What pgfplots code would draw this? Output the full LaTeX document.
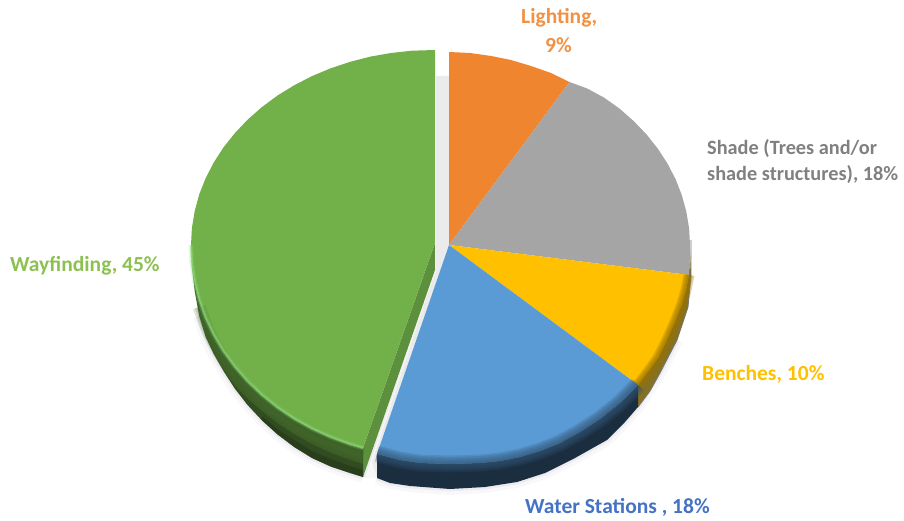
\documentclass[border=0pt]{standalone}
\usepackage{fontspec}
\setmainfont{Carlito}
\usepackage{pgfplots}
\usepackage{pgfplotstable}
\pgfplotsset{compat=1.18}
\tikzset{lbl/.style={font=\fontsize{21.5}{24}\selectfont\bfseries, inner sep=0pt, anchor=west}}

\definecolor{cOrange}{HTML}{F0852F}
\definecolor{cGray}{HTML}{A5A5A5}
\definecolor{cYellow}{HTML}{FFC000}
\definecolor{cBlue}{HTML}{5B9BD5}
\definecolor{cGreen}{HTML}{72B04A}
\definecolor{cShadow}{HTML}{C9C9D6}

% Share of respondents per amenity: Lighting 9, Shade 18, Benches 10, Water Stations 18, Wayfinding 45
% Outer rims of the lower slices, in plot units
\pgfplotstableread{
x y
689 275
686 290
682 304
675 322
667 340
658 358
648 372
638 385
}\rimYellow
\pgfplotstableread{
x y
638 385
620 403
600 419
580 432
560 443
540 451
520 457
500 461
480 463
450 464
420 463
400 460
377 454
}\rimBlue
\pgfplotstableread{
x y
191 245
191.9 263.5
194.7 281.8
199.2 299.9
205.6 317.5
213.7 334.6
223.4 351
234.8 366.6
247.6 381.3
261.9 394.9
277.4 407.4
294.2 418.7
312 428.6
330.7 437.1
350.2 444.2
363 448
}\rimGreen
\pgfplotstableread{
x y
199.2 316
205.6 337
213.7 354
223.4 371
234.8 388.5
247.6 405
261.9 420.3
277.4 434.3
294.2 447
312 458
330.7 466.5
350.2 473
363 477
}\edgeGreen
\pgfplotstableread{
x y
377 478
390 483
410 486
450 489
485 487
517 482
545 473
575 458
607 440
625 422
638 407
660 373
677 340
}\edgeLower

\begin{document}
\begin{tikzpicture}
\begin{axis}[
  scale only axis, width=904pt, height=521pt,
  xmin=0, xmax=904, ymin=0, ymax=521, y dir=reverse,
  hide axis, clip=false,
  every axis plot/.append style={no markers, line join=round},
]
% keeps the page at the full plot area
\path (axis cs:0,0) -- (axis cs:904,521);

% soft shadow around the lower edge
\addplot[draw=cShadow, line width=12pt, opacity=.12] table {\edgeGreen};
\addplot[draw=cShadow, line width=12pt, opacity=.12] table {\edgeLower};
\addplot[draw=cShadow, line width=5pt, opacity=.25] table {\edgeGreen};
\addplot[draw=cShadow, line width=5pt, opacity=.25] table {\edgeLower};

% gap left by the pulled-out slice
\addplot[fill=black!8, draw=none] coordinates {(436,76) (449,76) (449,245) (377,455) (377,478) (363,477) (436,270)} --cycle;
\addplot[fill=black!3, draw=none] coordinates {(435,270) (438,262) (372,462) (377,478) (365,478)} --cycle;

% side walls
\addplot[fill=black!45!cYellow!85!cBlue, draw=none] coordinates {(690,250) (691,275) (688,307) (677,340) (660,373) (650,391) (638,407) (638,385) (648,372) (658,358) (667,340) (675,322) (682,304) (686,290) (689,275)} --cycle;
\addplot[draw=black!55, line width=.8pt] coordinates {(691,240) (691,275) (688,307) (677,340) (660,373) (650,391) (638,407)};
\addplot[fill=cBlue!30!black, draw=none] coordinates {(638,385) (620,403) (600,419) (580,432) (560,443) (540,451) (520,457) (500,461) (480,463) (450,464) (420,463) (400,460) (377,454) (377,478) (390,483) (410,486) (450,489) (485,487) (517,482) (545,473) (575,458) (607,440) (625,422) (638,407)} --cycle;

% flat top of the slices
\addplot[fill=cOrange, draw=none] coordinates {(449,245) (449,52) (470,53) (491,56) (511,60) (531,66) (551,73) (569.5,82)} --cycle;
\addplot[fill=cGray, draw=none] coordinates {(449,245) (569.5,82) (587.2,88.5) (603.9,97.5) (619.4,108.5) (633.6,121) (646.4,134.3) (657.7,148.5) (667.4,163.4) (675.5,179) (681.8,195.1) (686.3,211.5) (689.1,228.2) (690,245) (689.8,260) (689,275)} --cycle;
\addplot[fill=cYellow, draw=none] coordinates {(449,245) (689,275) (686,290) (682,304) (675,322) (667,340) (658,358) (648,372) (638,385)} --cycle;
\addplot[fill=cBlue, draw=none] coordinates {(449,245) (638,385) (620,403) (600,419) (580,432) (560,443) (540,451) (520,457) (500,461) (480,463) (450,464) (420,463) (400,460) (377,454)} --cycle;

% blurred crease between top and wall
\pgfplotsinvokeforeach{17,14,11,8,5,2}{
  \addplot[draw=cBlue!55!black, line width=#1pt, opacity=.2] table {\rimBlue};
}
\pgfplotsinvokeforeach{11,8,5,2}{
  \addplot[draw=cYellow!60!black, line width=#1pt, opacity=.3] table {\rimYellow};
}

% pulled-out slice: cut face, wall and top
\addplot[fill=cGreen!82!black, draw=none] coordinates {(435,243) (363,448) (363,477) (435,270)} --cycle;
\addplot[fill=cGreen!52!black, draw=none] coordinates {(191,245) (191.9,263.5) (194.7,281.8) (199.2,299.9) (205.6,317.5) (213.7,334.6) (223.4,351) (234.8,366.6) (247.6,381.3) (261.9,394.9) (277.4,407.4) (294.2,418.7) (312,428.6) (330.7,437.1) (350.2,444.2) (363,448) (363,477) (350.2,473) (330.7,466.5) (312,458) (294.2,447) (277.4,434.3) (261.9,420.3) (247.6,405) (234.8,388.5) (223.4,371) (213.7,354) (205.6,337) (199.2,316) (194.7,291) (191.9,266) (191,248)} --cycle;
\addplot[fill=cGreen!28!black, draw=none, opacity=.35] coordinates {(223.4,370) (234.8,386) (247.6,399) (261.9,411) (277.4,423) (294.2,434) (312,444) (330.7,453) (350.2,460) (363,464) (363,477) (350.2,473) (330.7,466.5) (312,458) (294.2,447) (277.4,434.3) (261.9,420.3) (247.6,405) (234.8,388.5)} --cycle;
\addplot[fill=cGreen!28!black, draw=none, opacity=.45] coordinates {(261.9,416) (277.4,429) (294.2,440) (312,451) (330.7,459) (350.2,466) (363,470) (363,477) (350.2,473) (330.7,466.5) (312,458) (294.2,447) (277.4,434.3) (261.9,420.3)} --cycle;
\addplot[fill=cGreen, draw=none] coordinates {(435,50) (411.9,50.7) (391,53) (370.4,56.6) (350.2,61.8) (330.7,68.3) (312,76.1) (294.2,85.3) (277.4,95.6) (261.9,107.1) (247.6,119.7) (234.8,133.2) (223.4,147.5) (213.7,162.6) (205.6,178.3) (199.2,194.5) (194.7,211.1) (191.9,228) (191,245) (191.9,263.5) (194.7,281.8) (199.2,299.9) (205.6,317.5) (213.7,334.6) (223.4,351) (234.8,366.6) (247.6,381.3) (261.9,394.9) (277.4,407.4) (294.2,418.7) (312,428.6) (330.7,437.1) (350.2,444.2) (363,448) (435,243)} --cycle;
\pgfplotsinvokeforeach{13,9,5}{
  \addplot[draw=cGreen!62!black, line width=#1pt, opacity=.18] coordinates {(199.2,307) (205.6,325) (213.7,342) (223.4,359) (234.8,375) (247.6,389) (261.9,403) (277.4,415) (294.2,427) (312,437) (330.7,445) (350.2,452) (363,456)};
}
\addplot[draw=cGreen!70!green!65!white, line width=5pt, opacity=.2] table {\rimGreen};
\addplot[draw=cGreen!70!green!65!white, line width=2.2pt, opacity=.6] table {\rimGreen};

% labels
\definecolor{tGreen}{HTML}{8CC152}
\definecolor{tBlue}{HTML}{4472C4}
\node[lbl, text=cOrange!90!white] at (axis cs:521,18) {Lighting,};
\node[lbl, text=cOrange!90!white] at (axis cs:545,45) {9\%};
\node[lbl, text=black!50, font=\fontsize{20.3}{24}\selectfont\bfseries] at (axis cs:707,149) {Shade (Trees and/or};
\node[lbl, text=black!50, font=\fontsize{20.3}{24}\selectfont\bfseries] at (axis cs:707,175) {shade structures), 18\%};
\node[lbl, text=cYellow] at (axis cs:702,374) {Benches, 10\%};
\node[lbl, text=tBlue] at (axis cs:525,507) {Water Stations , 18\%};
\node[lbl, text=tGreen] at (axis cs:10,266) {Wayfinding, 45\%};
\end{axis}
\end{tikzpicture}
\end{document}
